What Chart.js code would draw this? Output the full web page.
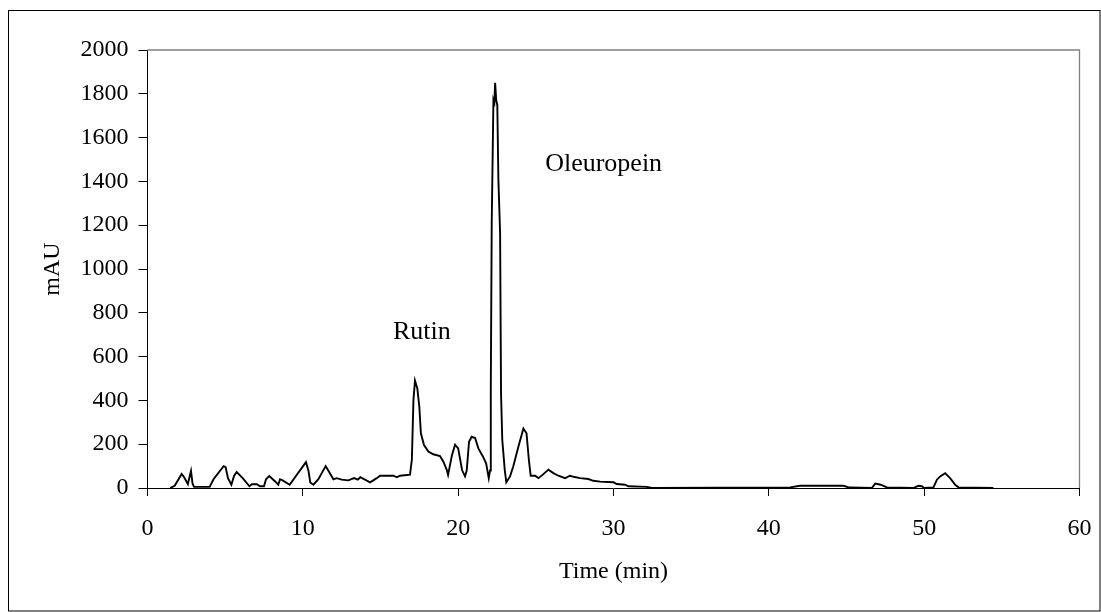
<!DOCTYPE html>
<html>
<head>
<meta charset="utf-8">
<script src="https://cdn.jsdelivr.net/npm/chart.js@4.4.1/dist/chart.umd.min.js"></script>
<style>
  html, body { margin: 0; padding: 0; background: #fff; }
  #wrap { width: 1101px; height: 612px; }
</style>
</head>
<body>
<div id="wrap"><canvas id="myChart" width="1101" height="612"></canvas></div>
<script>
// retention time (min) and absorbance (mAU)
var times = [
    1.45, 1.75, 2.2, 2.35, 2.6, 2.8, 2.9, 3.0, 4.0, 4.25,
    4.9, 5.03, 5.18, 5.4, 5.57, 5.74, 6.13, 6.56, 6.72, 7.04,
    7.24, 7.5, 7.63, 7.84, 8.22, 8.42, 8.53, 8.7, 9.15, 10.2,
    10.36, 10.48, 10.68, 11.0, 11.47, 11.97, 12.18, 12.5, 12.93, 13.3,
    13.54, 13.7, 14.33, 14.76, 14.97, 15.83, 16.05, 16.26, 16.9, 17.02,
    17.12, 17.22, 17.37, 17.5, 17.6, 17.8, 18.08, 18.4, 18.83, 19.05,
    19.27, 19.35, 19.6, 19.8, 20.0, 20.25, 20.44, 20.55, 20.7, 20.87,
    21.09, 21.3, 21.6, 21.8, 21.97, 22.05, 22.1, 22.16, 22.27, 22.33,
    22.38, 22.45, 22.52, 22.59, 22.7, 22.76, 22.84, 23.0, 23.1, 23.34,
    23.55, 23.88, 24.2, 24.4, 24.55, 24.67, 24.95, 25.17, 25.45, 25.81,
    26.13, 26.45, 26.88, 27.2, 27.5, 27.85, 28.38, 28.7, 29.14, 30.0,
    30.21, 30.75, 30.96, 32.15, 32.47, 41.37, 42.0, 44.8, 45.2, 46.63,
    46.85, 47.2, 47.6, 49.3, 49.63, 49.85, 50.0, 50.6, 50.82, 51.03,
    51.35, 51.67, 52.0, 52.21, 54.46
];
var mau = [
    0, 10, 64, 50, 18, 78, 20, 5, 5, 40,
    100, 95, 45, 15, 55, 73, 45, 8, 17, 17,
    8, 8, 40, 55, 30, 15, 40, 35, 15, 118,
    80, 25, 15, 40, 100, 40, 45, 38, 35, 45,
    38, 49, 26, 45, 56, 56, 49, 56, 61, 130,
    400, 490, 455, 371, 250, 196, 166, 154, 146, 120,
    82, 60, 150, 198, 181, 82, 53, 80, 211, 234,
    228, 181, 143, 113, 45, 80, 447, 1208, 1772, 1760,
    1850, 1770, 1749, 1406, 1163, 432, 219, 82, 26, 53,
    99, 190, 272, 250, 129, 56, 56, 45, 61, 84,
    68, 56, 45, 56, 50, 45, 41, 33, 29, 26,
    18, 15, 8, 5, 0, 3, 10, 10, 2, 0,
    20, 15, 3, 0, 10, 8, 0, 3, 38, 53,
    68, 45, 15, 3, 0
];

// peak labels, placed in data units
var peakNames = ['Rutin', 'Oleuropein'];
var peakX = [15.8, 25.6];
var peakY = [712, 1479];

var serif = "'Liberation Serif', 'Times New Roman', serif";

var points = [];
for (var i = 0; i < times.length; i++) {
    points.push({ x: times[i], y: mau[i] });
}

/**
 * Frame, grey plot border and peak labels
 */

var extras = {
    id: 'extras',
    beforeDraw: function(chart) {
        var ctx = chart.ctx;
        ctx.save();
        ctx.fillStyle = '#fff';
        ctx.fillRect(0, 0, chart.width, chart.height);
        ctx.strokeStyle = '#000';
        ctx.lineWidth = 1;
        ctx.strokeRect(8.5, 10.5, chart.width - 9.5, chart.height - 11.5);
        ctx.restore();
    },
    afterDatasetsDraw: function(chart) {
        var ctx = chart.ctx;
        var a = chart.chartArea;
        ctx.save();
        ctx.strokeStyle = '#808080';
        ctx.lineWidth = 1.3;
        ctx.beginPath();
        ctx.moveTo(a.left, a.top);
        ctx.lineTo(a.right, a.top);
        ctx.lineTo(a.right, a.bottom);
        ctx.stroke();

        ctx.fillStyle = '#000';
        ctx.font = '26px ' + serif;
        ctx.textAlign = 'left';
        ctx.textBaseline = 'middle';
        for (var i = 0; i < peakNames.length; i++) {
            ctx.fillText(peakNames[i],
                chart.scales.x.getPixelForValue(peakX[i]),
                chart.scales.y.getPixelForValue(peakY[i]));
        }
        ctx.restore();
    }
};

var plainNumber = function(value) {
    return String(value);
};

var ctx = document.getElementById('myChart').getContext('2d');
var chart = new Chart(ctx, {
    type: 'line',
    data: {
        datasets: [{
            data: points,
            borderColor: '#000',
            borderWidth: 1.9,
            pointRadius: 0,
            tension: 0,
            fill: false
        }]
    },
    options: {
        responsive: false,
        animation: false,
        layout: { padding: { top: 50, right: 21.5, left: 0, bottom: 0 } },
        plugins: {
            legend: { display: false },
            tooltip: { enabled: false }
        },
        scales: {
            x: {
                type: 'linear',
                min: 0,
                max: 60,
                afterFit: function(scale) {
                    scale.height = 124;
                    scale.paddingLeft = 0;
                    scale.paddingRight = 0;
                },
                ticks: {
                    stepSize: 10,
                    color: '#000',
                    padding: 18,
                    maxRotation: 0,
                    callback: plainNumber,
                    font: { family: serif, size: 24 }
                },
                grid: { drawOnChartArea: false, drawTicks: true, tickLength: 8, color: '#000' },
                border: { display: true, color: '#000', width: 1 },
                title: {
                    display: true,
                    text: 'Time (min)',
                    color: '#000',
                    padding: { top: 0, bottom: 26 },
                    font: { family: serif, size: 24 }
                }
            },
            y: {
                min: 0,
                max: 2000,
                afterFit: function(scale) {
                    scale.width = 147.5;
                    scale.paddingTop = 0;
                    scale.paddingBottom = 0;
                },
                ticks: {
                    stepSize: 200,
                    color: '#000',
                    padding: 10,
                    callback: plainNumber,
                    font: { family: serif, size: 24 }
                },
                grid: { drawOnChartArea: false, drawTicks: true, tickLength: 9, color: '#000' },
                border: { display: true, color: '#000', width: 1 },
                title: {
                    display: true,
                    text: 'mAU',
                    color: '#000',
                    padding: { top: 38, bottom: 0 },
                    font: { family: serif, size: 24 }
                }
            }
        }
    },
    plugins: [extras]
});
</script>
</body>
</html>
